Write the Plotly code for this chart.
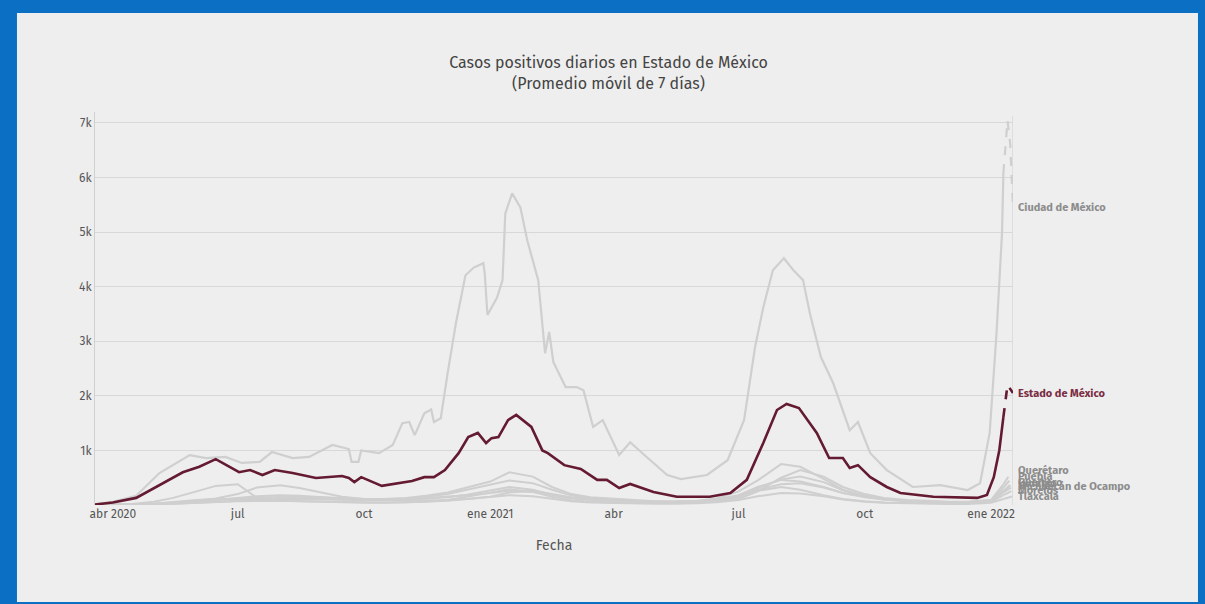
import plotly.graph_objects as go

# ---------------- data ----------------
TITLE = "Casos positivos diarios en Estado de México<br>(Promedio móvil de 7 días)"
X_TITLE = "Fecha"
PROVISIONAL_FROM = "2022-01-10"

X_TICKVALS = ["2020-04-01", "2020-07-01", "2020-10-01", "2021-01-01",
              "2021-04-01", "2021-07-01", "2021-10-01", "2022-01-01"]
X_TICKTEXT = ["abr 2020", "jul", "oct", "ene 2021", "abr", "jul", "oct", "ene 2022"]
Y_TICKVALS = [1000, 2000, 3000, 4000, 5000, 6000, 7000]
Y_TICKTEXT = ["1k", "2k", "3k", "4k", "5k", "6k", "7k"]

EDOMEX_NAME = "Estado de México"
EDOMEX_DATES = ["2020-03-19", "2020-04-01", "2020-04-18", "2020-05-05", "2020-05-22", "2020-06-03",
                "2020-06-15", "2020-07-02", "2020-07-10", "2020-07-19", "2020-07-28", "2020-08-10",
                "2020-08-27", "2020-09-15", "2020-09-20", "2020-09-24", "2020-09-29", "2020-10-14",
                "2020-10-22", "2020-11-05", "2020-11-14", "2020-11-21", "2020-11-29", "2020-12-09",
                "2020-12-16", "2020-12-23", "2020-12-29", "2021-01-02", "2021-01-07", "2021-01-14",
                "2021-01-20", "2021-01-31", "2021-02-08", "2021-02-12", "2021-02-24", "2021-03-08",
                "2021-03-20", "2021-03-27", "2021-04-05", "2021-04-13", "2021-04-30", "2021-05-17",
                "2021-06-10", "2021-06-25", "2021-07-07", "2021-07-19", "2021-07-29", "2021-08-05",
                "2021-08-14", "2021-08-27", "2021-09-05", "2021-09-15", "2021-09-20", "2021-09-26",
                "2021-10-05", "2021-10-17", "2021-10-27", "2021-11-20", "2021-12-22", "2021-12-29",
                "2022-01-03", "2022-01-07", "2022-01-10", "2022-01-13", "2022-01-17"]
EDOMEX_VALUES = [10, 45, 130, 370, 600, 700,
                 840, 600, 640, 550, 640, 585,
                 495, 530, 495, 420, 510, 350,
                 385, 440, 510, 510, 640, 950,
                 1245, 1320, 1135, 1225, 1245, 1555,
                 1650, 1430, 1000, 950, 730, 660,
                 460, 460, 310, 385, 240, 150,
                 150, 220, 460, 1135, 1740, 1850,
                 1775, 1320, 860, 860, 680, 730,
                 510, 330, 220, 150, 130, 185,
                 510, 1000, 1610, 2200, 2050]

CDMX_NAME = "Ciudad de México"
CDMX_DATES = ["2020-03-19", "2020-04-01", "2020-04-18", "2020-05-05", "2020-05-27", "2020-06-08",
              "2020-06-22", "2020-07-04", "2020-07-17", "2020-07-26", "2020-08-10", "2020-08-22",
              "2020-09-08", "2020-09-15", "2020-09-20", "2020-09-22", "2020-09-27", "2020-09-29",
              "2020-10-12", "2020-10-22", "2020-10-29", "2020-11-03", "2020-11-07", "2020-11-14",
              "2020-11-19", "2020-11-21", "2020-11-26", "2020-12-01", "2020-12-07", "2020-12-14",
              "2020-12-20", "2020-12-27", "2020-12-28", "2020-12-30", "2021-01-06", "2021-01-10",
              "2021-01-12", "2021-01-17", "2021-01-23", "2021-01-28", "2021-02-05", "2021-02-10",
              "2021-02-13", "2021-02-16", "2021-02-25", "2021-03-05", "2021-03-10", "2021-03-17",
              "2021-03-24", "2021-04-05", "2021-04-13", "2021-04-25", "2021-05-10", "2021-05-20",
              "2021-06-08", "2021-06-23", "2021-07-05", "2021-07-13", "2021-07-19", "2021-07-26",
              "2021-08-03", "2021-08-10", "2021-08-17", "2021-08-22", "2021-08-30", "2021-09-08",
              "2021-09-20", "2021-09-26", "2021-10-05", "2021-10-17", "2021-11-05", "2021-11-25",
              "2021-12-15", "2021-12-24", "2021-12-31", "2022-01-05", "2022-01-09", "2022-01-10",
              "2022-01-13", "2022-01-15", "2022-01-17"]
CDMX_VALUES = [15, 60, 170, 585, 915, 860,
               880, 770, 790, 970, 860, 880,
               1100, 1060, 1025, 790, 790, 1000,
               950, 1100, 1500, 1520, 1280, 1680,
               1750, 1520, 1590, 2415, 3330, 4210,
               4350, 4430, 4250, 3480, 3800, 4120,
               5340, 5710, 5450, 4850, 4120, 2780,
               3170, 2620, 2160, 2160, 2100, 1430,
               1555, 915, 1150, 880, 550, 475,
               550, 820, 1555, 2890, 3620, 4300,
               4520, 4300, 4120, 3510, 2710, 2230,
               1370, 1520, 950, 640, 330, 365,
               275, 400, 1320, 3150, 4980, 6080,
               7050, 6600, 5450]

SMALL_DATES = ["2020-03-19", "2020-04-01", "2020-04-15", "2020-05-01", "2020-05-15", "2020-06-01",
               "2020-06-15", "2020-07-01", "2020-07-15", "2020-08-01", "2020-08-15", "2020-09-01",
               "2020-09-15", "2020-10-01", "2020-10-15", "2020-11-01", "2020-11-15", "2020-12-01",
               "2020-12-15",
               "2021-01-01", "2021-01-15", "2021-02-01", "2021-02-15", "2021-03-01", "2021-03-15",
               "2021-04-01", "2021-04-15", "2021-05-01", "2021-05-15", "2021-06-01", "2021-06-15",
               "2021-07-01", "2021-07-15", "2021-08-01", "2021-08-15", "2021-09-01", "2021-09-15",
               "2021-10-01", "2021-10-15", "2021-11-01", "2021-11-15", "2021-12-01", "2021-12-15",
               "2022-01-01", "2022-01-10", "2022-01-17"]

QUERETARO = [0, 3, 8, 15, 25, 40, 55, 75, 95, 110, 110, 100, 90, 85, 85, 95, 110, 140, 190,
             260, 330, 280, 190, 130, 95, 75, 65, 55, 55, 65, 90, 160, 310, 470, 520, 420, 270,
             160, 110, 80, 65, 55, 55, 90, 380, 640]
PUEBLA = [0, 5, 20, 60, 130, 250, 350, 380, 130, 140, 150, 140, 120, 110, 110, 130, 170, 230, 320,
          430, 600, 520, 330, 200, 140, 110, 90, 70, 60, 60, 70, 110, 250, 500, 640, 520, 330,
          200, 130, 90, 70, 60, 60, 90, 320, 520]
GUERRERO = [0, 3, 10, 25, 50, 80, 120, 200, 320, 360, 310, 220, 150, 110, 90, 80, 80, 90, 110,
            150, 230, 260, 200, 140, 100, 80, 70, 60, 60, 80, 120, 250, 450, 750, 700, 480, 280,
            170, 110, 80, 60, 50, 45, 70, 250, 420]
HIDALGO = [0, 2, 8, 20, 40, 70, 100, 120, 130, 140, 130, 110, 100, 90, 100, 120, 150, 200, 280,
           380, 450, 400, 280, 180, 120, 90, 75, 65, 60, 70, 100, 180, 330, 460, 430, 330, 220,
           150, 100, 70, 55, 50, 50, 80, 260, 400]
MICHOACAN = [0, 2, 6, 15, 30, 55, 90, 130, 160, 180, 170, 140, 110, 100, 100, 110, 130, 150, 180,
             220, 260, 240, 180, 130, 100, 80, 70, 60, 60, 70, 100, 170, 280, 380, 400, 320, 220,
             140, 100, 70, 55, 50, 50, 70, 230, 340]
MORELOS = [0, 2, 8, 25, 60, 90, 110, 100, 80, 70, 60, 50, 45, 40, 40, 45, 60, 90, 150,
           230, 290, 240, 150, 90, 60, 45, 40, 35, 35, 45, 70, 140, 260, 330, 280, 180, 110,
           70, 45, 35, 30, 30, 30, 60, 180, 270]
TLAXCALA = [0, 1, 3, 10, 25, 45, 60, 70, 75, 80, 70, 60, 50, 45, 45, 50, 60, 80, 110,
            150, 180, 160, 110, 70, 45, 35, 30, 25, 25, 30, 50, 90, 160, 220, 210, 160, 100,
            60, 40, 30, 25, 20, 20, 40, 110, 160]

SMALL_NAMES = ["Querétaro", "Puebla", "Guerrero", "Hidalgo", "Michoacán de Ocampo", "Morelos", "Tlaxcala"]
SMALL_VALUES = [QUERETARO, PUEBLA, GUERRERO, HIDALGO, MICHOACAN, MORELOS, TLAXCALA]

# ---------------- style ----------------
FONT = "Fira Sans, Lato, sans-serif"
GRAY = "#cfcfcf"
GRAY_LABEL = "#8c8c8c"
MAROON = "#641a30"
BG = "#eeeeee"
FRAME = "#0b6fc3"

fig = go.Figure()


def add_series(dates, values, color, width, name):
    solid_x = [d for d in dates if d <= PROVISIONAL_FROM]
    solid_y = [v for d, v in zip(dates, values) if d <= PROVISIONAL_FROM]
    dash_x = [d for d in dates if d >= PROVISIONAL_FROM]
    dash_y = [v for d, v in zip(dates, values) if d >= PROVISIONAL_FROM]
    fig.add_trace(go.Scatter(x=solid_x, y=solid_y, mode="lines", name=name,
                             line=dict(color=color, width=width), showlegend=False,
                             hoverinfo="skip"))
    fig.add_trace(go.Scatter(x=dash_x, y=dash_y, mode="lines", name=name,
                             line=dict(color=color, width=width, dash="dash"),
                             showlegend=False, hoverinfo="skip"))


for nm, vals in zip(SMALL_NAMES, SMALL_VALUES):
    assert len(vals) == len(SMALL_DATES), nm
    add_series(SMALL_DATES, vals, GRAY, 2, nm)

assert len(CDMX_DATES) == len(CDMX_VALUES)
assert len(EDOMEX_DATES) == len(EDOMEX_VALUES)
add_series(CDMX_DATES, CDMX_VALUES, GRAY, 2.2, CDMX_NAME)
add_series(EDOMEX_DATES, EDOMEX_VALUES, MAROON, 2.6, EDOMEX_NAME)

# end labels
labels = [(CDMX_NAME, CDMX_DATES[-1], CDMX_VALUES[-1], GRAY_LABEL),
          (EDOMEX_NAME, EDOMEX_DATES[-1], EDOMEX_VALUES[-1], "#7a2c42")]
labels += [(nm, SMALL_DATES[-1], vals[-1], GRAY_LABEL) for nm, vals in zip(SMALL_NAMES, SMALL_VALUES)]
for nm, xd, yv, col in labels:
    fig.add_annotation(x=xd, y=yv, text="<b>" + nm + "</b>", showarrow=False,
                       xanchor="left", yanchor="middle", xshift=3,
                       font=dict(family=FONT, size=11, color=col))

# frame + vertical marker at last date
fig.add_shape(type="rect", xref="paper", yref="paper", x0=-0.085, x1=1.2015, y0=-0.2468, y1=1.252,
              fillcolor=BG, line=dict(width=0), layer="below")
fig.add_shape(type="line", xref="x", yref="paper", x0=CDMX_DATES[-1], x1=CDMX_DATES[-1],
              y0=0, y1=0.99, line=dict(color="#d2d2d2", width=1.2), layer="below")

fig.update_layout(
    width=1205, height=604, autosize=False,
    margin=dict(l=95, r=192, t=112, b=99),
    paper_bgcolor=FRAME, plot_bgcolor="rgba(0,0,0,0)",
    font=dict(family=FONT, color="#555555", size=12),
    title=dict(text=TITLE, x=0.505, xref="container", y=0.887, yref="container",
               xanchor="center", yanchor="middle",
               font=dict(family=FONT, size=16, color="#444444")),
    showlegend=False,
)
fig.update_xaxes(range=[CDMX_DATES[0], CDMX_DATES[-1]], autorange=False,
                 tickvals=X_TICKVALS, ticktext=X_TICKTEXT, showgrid=False, zeroline=False,
                 showline=False, ticks="", tickfont=dict(size=12, color="#555555"),
                 title=dict(text=X_TITLE, font=dict(size=14, color="#555555"), standoff=20))
fig.update_yaxes(range=[0, 7200], tickvals=Y_TICKVALS, ticktext=Y_TICKTEXT, showgrid=True,
                 gridcolor="#d8d8d8", gridwidth=1, zeroline=False, showline=True,
                 linecolor="#d0d0d0", linewidth=1, ticks="", tickfont=dict(size=12, color="#555555"))

fig.write_html("out.html", config={"displayModeBar": False},
               post_script="document.body.style.margin='0';document.body.style.overflow='hidden';")
